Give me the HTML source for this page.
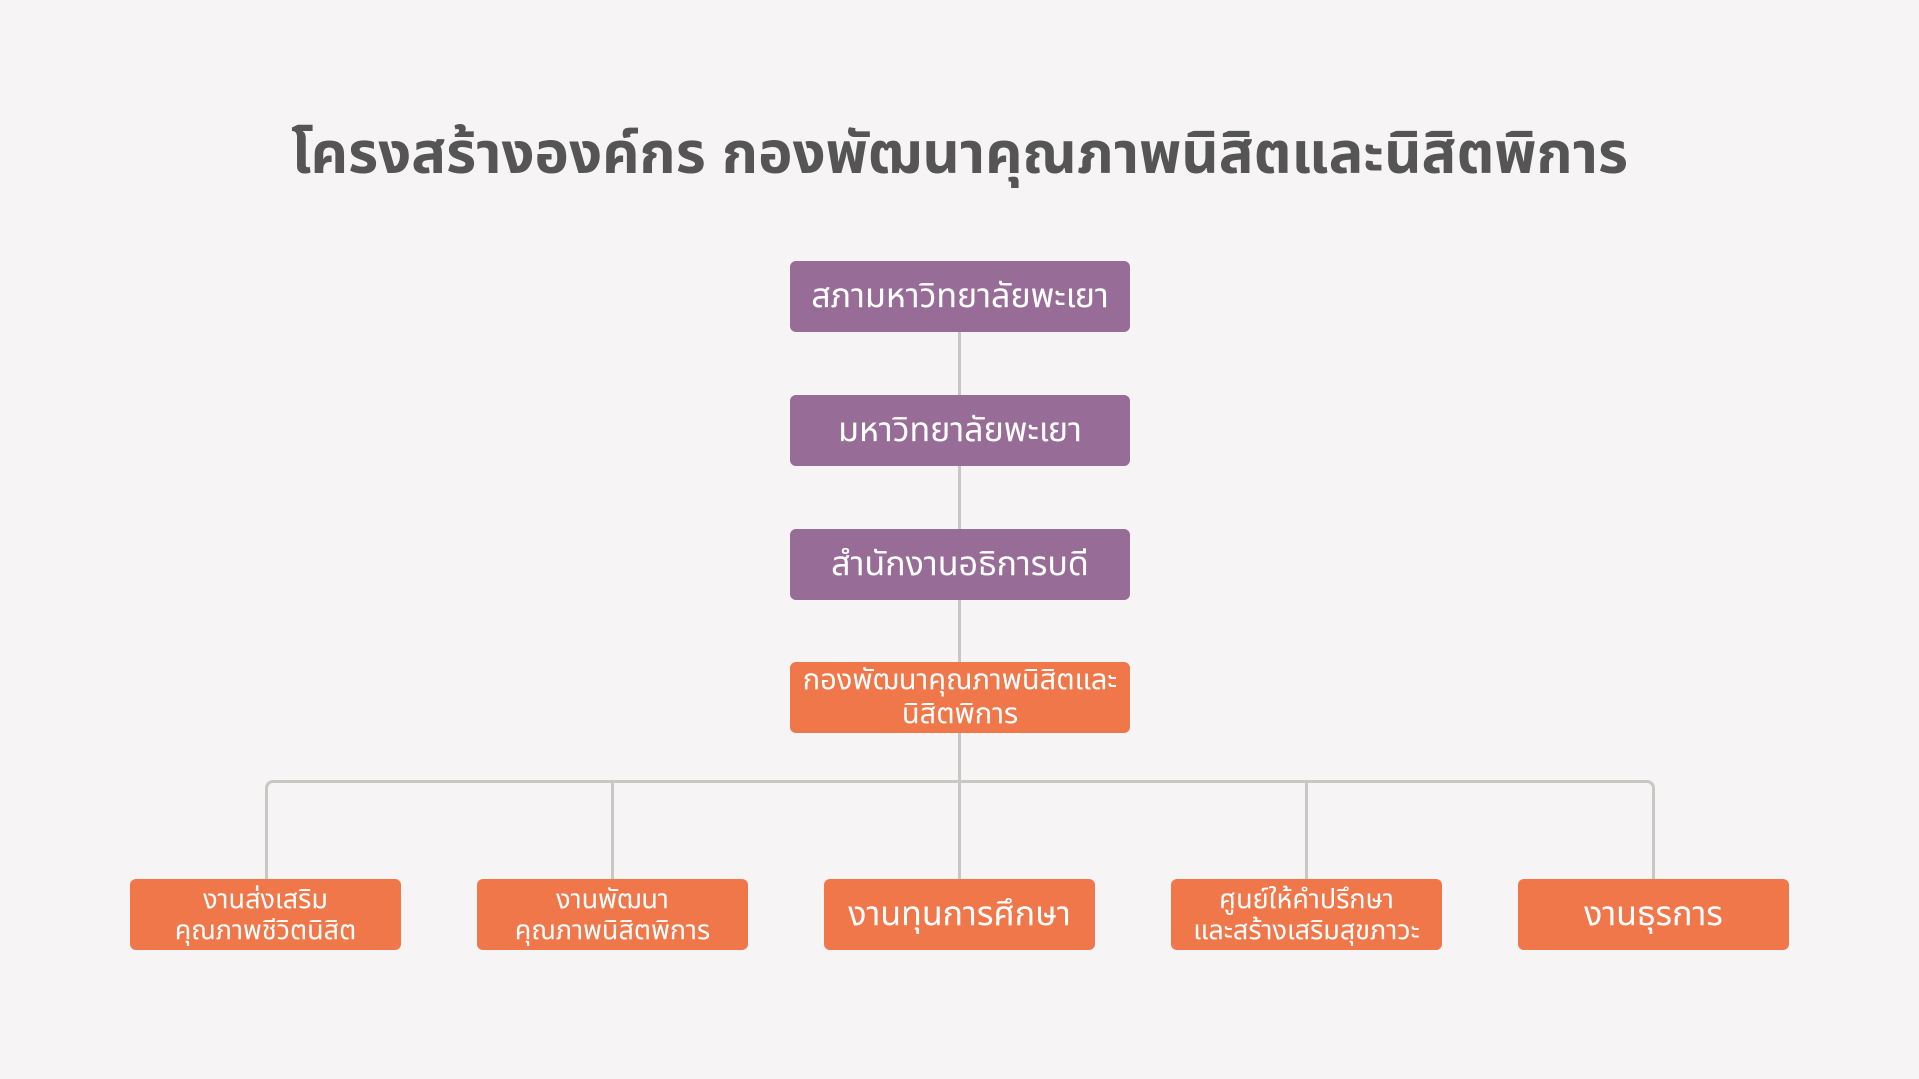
<!DOCTYPE html>
<html><head><meta charset="utf-8"><style>
html,body{margin:0;padding:0}
body{width:1919px;height:1079px;background:#f6f4f4;position:relative;overflow:hidden;font-family:"Liberation Sans","Noto Sans Thai","Garuda","Loma",sans-serif}
.t{position:absolute;left:0;width:1919px;top:112px;text-align:center;font-size:58px;font-weight:bold;color:#555555}
.b{position:absolute;border-radius:6px;color:#fff;display:flex;align-items:center;justify-content:center;text-align:center;line-height:1.13}
.p{background:#976c97;font-size:34px}
.o{background:#ef774a}
.l{position:absolute;background:#c9c7c3}
</style></head><body>
<div class="t">โครงสร้างองค์กร กองพัฒนาคุณภาพนิสิตและนิสิตพิการ</div>
<div class="l" style="left:958px;top:332px;width:3px;height:450px"></div>
<div style="position:absolute;left:265px;top:780px;width:1390px;height:110px;border:3px solid #c9c7c3;border-bottom:none;border-radius:8px 8px 0 0;box-sizing:border-box"></div>
<div class="l" style="left:611px;top:781px;width:3px;height:100px"></div>
<div class="l" style="left:958px;top:781px;width:3px;height:100px"></div>
<div class="l" style="left:1305px;top:781px;width:3px;height:100px"></div>
<div class="b p" style="left:790px;top:261px;width:340px;height:71px">สภามหาวิทยาลัยพะเยา</div>
<div class="b p" style="left:790px;top:395px;width:340px;height:71px">มหาวิทยาลัยพะเยา</div>
<div class="b p" style="left:790px;top:529px;width:340px;height:71px">สำนักงานอธิการบดี</div>
<div class="b o" style="left:790px;top:662px;width:340px;height:71px;font-size:29px;line-height:1.17">กองพัฒนาคุณภาพนิสิตและ<br>นิสิตพิการ</div>
<div class="b o" style="left:130px;top:879px;width:271px;height:71px;font-size:27px">งานส่งเสริม<br>คุณภาพชีวิตนิสิต</div>
<div class="b o" style="left:477px;top:879px;width:271px;height:71px;font-size:27px">งานพัฒนา<br>คุณภาพนิสิตพิการ</div>
<div class="b o" style="left:824px;top:879px;width:271px;height:71px;font-size:34px">งานทุนการศึกษา</div>
<div class="b o" style="left:1171px;top:879px;width:271px;height:71px;font-size:27px">ศูนย์ให้คำปรึกษา<br>และสร้างเสริมสุขภาวะ</div>
<div class="b o" style="left:1518px;top:879px;width:271px;height:71px;font-size:34px">งานธุรการ</div>
</body></html>
